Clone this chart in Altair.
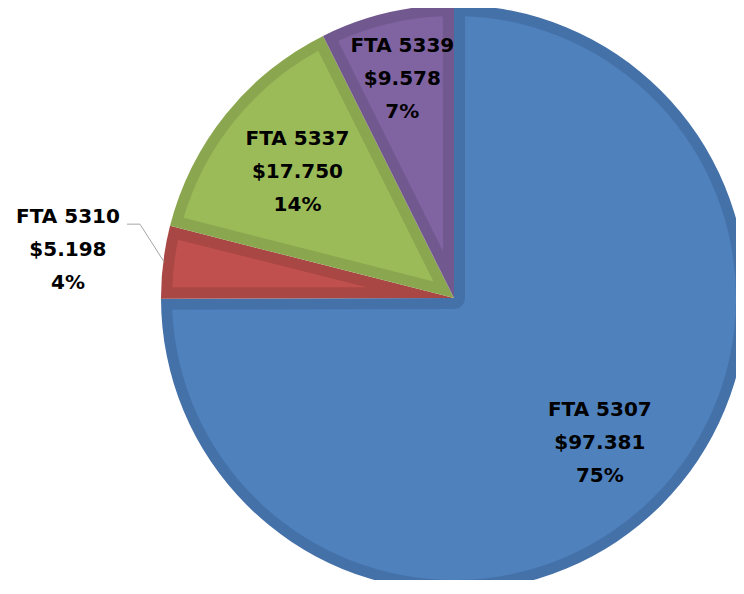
import math
import altair as alt
import pandas as pd

# ---- data ----
programs = ["FTA 5307", "FTA 5310", "FTA 5337", "FTA 5339"]
amounts = [97381, 5198, 17750, 9578]
amount_text = ["$97.381", "$5.198", "$17.750", "$9.578"]
percent_text = ["75%", "4%", "14%", "7%"]

# ---- styles ----
fill_colors = ["#4F81BD", "#C0504D", "#9BBB59", "#8064A2"]
border_colors = ["#4571A9", "#A94744", "#8AA74F", "#71588F"]
FONT = "DejaVu Sans"

# ---- layout (pixels) ----
TOTAL_W, TOTAL_H = 728, 572
CX, CY = 446, 290          # pie centre inside the chart
R = 293                    # outer radius
BORDER = 11                # width of the darker slice border
label_radius = [206, 389, 201, 225]

W = 2 * (TOTAL_W - CX)
PL = CX - W // 2
H = 2 * (TOTAL_H - CY)
PT = CY - H // 2

total = sum(amounts)
ro = R - BORDER
pad = 2 * math.asin(BORDER / ro)
inner = []
for v in amounts:
    a = 2 * math.pi * v / total
    inner.append(BORDER / math.sin(a / 2) if a < math.pi else BORDER)

df = pd.DataFrame({
    "program": programs,
    "amount": amounts,
    "idx": list(range(len(programs))),
    "line1": programs,
    "line2": amount_text,
    "line3": percent_text,
    "fill": fill_colors,
    "border": border_colors,
    "ro": [ro] * len(programs),
    "ri": inner,
    "lr": label_radius,
})

# leader line for the small slice (FTA 5310)
k = 1
mid = (sum(amounts[:k]) + amounts[k] / 2) / total * 2 * math.pi
vx, vy = W / 2, H / 2
ax = vx + label_radius[k] * math.sin(mid)
ay = vy - label_radius[k] * math.cos(mid)
ex = vx + (R - 1) * math.sin(mid)
ey = vy - (R - 1) * math.cos(mid)
lead = pd.DataFrame({
    "i": [0, 1, 2],
    "x": [ax + 59, ax + 72, ex],
    "y": [ay - 26, ay - 26, ey],
})

theta = alt.Theta("amount:Q", stack=True)
order = alt.Order("idx:Q")
base = alt.Chart(df)

dark = base.mark_arc(outerRadius=R).encode(
    theta=theta,
    order=order,
    color=alt.Color("border:N", scale=None),
)

light = base.mark_arc(padAngle=pad).encode(
    theta=theta,
    order=order,
    radius=alt.Radius("ro:Q", scale=None),
    radius2=alt.Radius2("ri:Q"),
    color=alt.Color("fill:N", scale=None),
)

leader = alt.Chart(lead).mark_line(color="#A6A6A6", strokeWidth=1).encode(
    x=alt.X("x:Q", scale=None, axis=None),
    y=alt.Y("y:Q", scale=None, axis=None),
    order="i:Q",
)

# label anchors: middle of each slice's angle, at the label radius
text_base = base.transform_joinaggregate(
    total="sum(amount)"
).transform_window(
    cum="sum(amount)", sort=[alt.SortField("idx", order="ascending")], frame=[None, 0]
).transform_calculate(
    mid="(datum.cum - datum.amount / 2) / datum.total * 2 * PI",
).transform_calculate(
    tx=f"{vx} + datum.lr * sin(datum.mid)",
    ty=f"{vy} - datum.lr * cos(datum.mid)",
)

LH = 33
text_layers = []
for j, (fld, dy) in enumerate([("line1", -LH), ("line2", 0), ("line3", LH)]):
    text_layers.append(
        text_base.mark_text(
            font=FONT, fontSize=20, fontWeight="bold", dy=dy,
            align="center", baseline="middle", color="#000000",
        ).encode(
            x=alt.X("tx:Q", scale=None, axis=None),
            y=alt.Y("ty:Q", scale=None, axis=None),
            text=f"{fld}:N",
        )
    )

chart = alt.layer(dark, light, leader, *text_layers).properties(
    width=W,
    height=H,
    padding={"left": PL, "top": PT, "right": 0, "bottom": 0},
    autosize=alt.AutoSizeParams(type="none"),
    background="white",
).configure_view(stroke=None)

chart.save("out.html", embed_options={"renderer": "svg", "actions": False})
